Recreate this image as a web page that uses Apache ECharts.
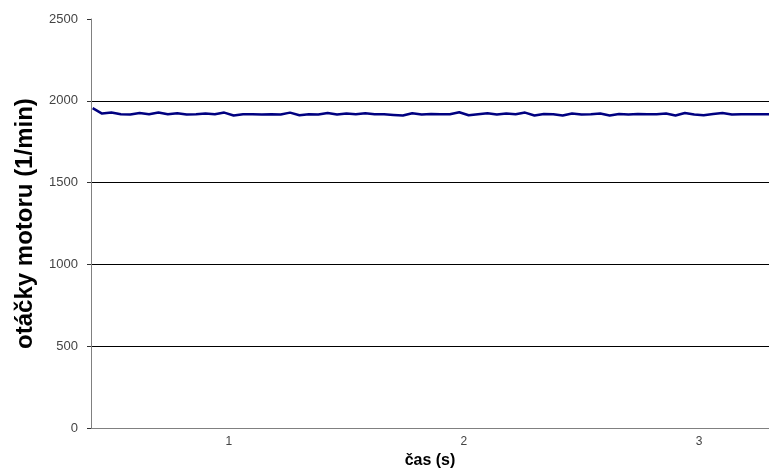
<!DOCTYPE html>
<html>
<head>
<meta charset="utf-8">
<script src="https://cdn.jsdelivr.net/npm/echarts@6/dist/echarts.min.js"></script>
<style>html,body{margin:0;padding:0;background:#fff;overflow:hidden;width:100%;height:100%}#c{width:100vw;height:100vh}</style>
</head>
<body>
<div id="c"></div>
<script>
const tStart = 0.42;
const tStep = 0.04;
const xMin = 0.413;
const xMax = 3.298;
const rpm = [1955,1922,1928,1918,1916,1925,1918,1928,1918,1924,1916,1918,1922,1918,1928,1910,
  1918,1918,1916,1918,1916,1928,1912,1918,1916,1926,1916,1922,1918,1924,1918,1918,1914,1910,
  1924,1916,1920,1918,1918,1930,1912,1918,1924,1916,1922,1918,1928,1910,1920,1918,1910,1922,
  1916,1918,1922,1910,1920,1916,1920,1918,1918,1922,1910,1926,1916,1912,1920,1926,1916,1918,
  1918,1918,1918];
const xTickLabels = [1, 2, 3];
const yTicks = [0, 500, 1000, 1500, 2000, 2500];
const xName = 'čas (s)';
const yName = 'otáčky motoru (1/min)';

const data = rpm.map((v, i) => [+(tStart + i * tStep).toFixed(2), v]);
const chart = echarts.init(document.getElementById('c'), null, {renderer: 'canvas'});
chart.setOption({
  animation: false,
  backgroundColor: '#fff',
  grid: {left: 91, right: 0, top: 19, bottom: 35, containLabel: false},
  xAxis: {
    type: 'value',
    min: xMin,
    max: xMax,
    name: xName,
    nameLocation: 'middle',
    nameGap: 8,
    nameTextStyle: {fontFamily: 'Liberation Sans', fontWeight: 'bold', fontSize: 16, color: '#000', verticalAlign: 'top'},
    axisLine: {show: true, lineStyle: {color: '#808080', width: 1}},
    axisTick: {show: false},
    splitLine: {show: false},
    axisLabel: {customValues: xTickLabels, fontFamily: 'Liberation Sans', fontSize: 12, color: '#444', margin: 8,
      formatter: v => String(v)}
  },
  yAxis: {
    type: 'value',
    min: yTicks[0],
    max: yTicks[yTicks.length - 1],
    interval: 500,
    name: yName,
    nameLocation: 'middle',
    nameGap: 54,
    nameRotate: 90,
    nameTextStyle: {fontFamily: 'Liberation Sans', fontWeight: 'bold', fontSize: 24, color: '#000'},
    axisLine: {show: true, lineStyle: {color: '#808080', width: 1}},
    axisTick: {show: true, inside: false, length: 4, lineStyle: {color: '#333'}},
    axisLabel: {fontFamily: 'Liberation Sans', fontSize: 13, color: '#444', margin: 13,
      formatter: v => String(v)},
    splitLine: {show: true, lineStyle: {color: ['#808080', '#000', '#000', '#000', '#000', 'rgba(0,0,0,0)'], width: 1}}
  },
  series: [{
    type: 'line',
    data: data,
    showSymbol: false,
    lineStyle: {color: '#000080', width: 2.5},
    itemStyle: {color: '#000080'}
  }]
});
</script>
</body>
</html>
